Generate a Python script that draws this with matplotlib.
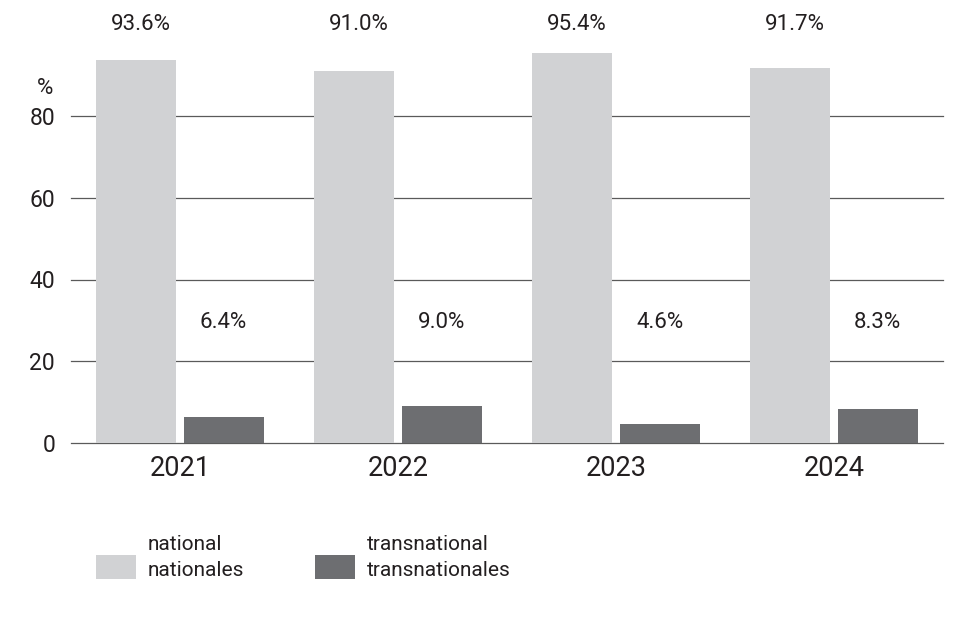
import matplotlib
matplotlib.use("Agg")
import matplotlib.pyplot as plt
import numpy as np
from matplotlib.patches import Rectangle

years = ["2021", "2022", "2023", "2024"]
national = [93.6, 91.0, 95.4, 91.7]
transnational = [6.4, 9.0, 4.6, 8.3]
national_labels = ["93.6%", "91.0%", "95.4%", "91.7%"]
trans_labels = ["6.4%", "9.0%", "4.6%", "8.3%"]
yticks = [0, 20, 40, 60, 80]

C_NAT = "#d1d2d4"
C_TRA = "#6d6e71"
TXT = "#231f20"
GRID = "#5a5a5a"

plt.rcParams['font.family'] = ['Roboto', 'DejaVu Sans']

W, H = 957, 641
fig = plt.figure(figsize=(W / 100, H / 100), dpi=100)
ax_l, ax_r = 71, 943
y0 = 443
ppu = (443 - 116) / 80.0
ytop = y0 - 100 * ppu
ax = fig.add_axes([ax_l / W, 1 - y0 / H, (ax_r - ax_l) / W, (y0 - ytop) / H])

x = np.arange(len(years))
bw = 0.367
off = 0.2
ax.set_xlim(-0.5, 3.5)
ax.set_ylim(0, 100)

for t in yticks:
    ax.axhline(t, color=GRID, lw=0.9, zorder=1, clip_on=False)

ax.bar(x - off, national, width=bw, color=C_NAT, zorder=2)
ax.bar(x + off, transnational, width=bw, color=C_TRA, zorder=2)

lab_top = (443 - 25) / ppu
lab_mid = (443 - 323) / ppu
for i in range(len(years)):
    ax.text(x[i] - off + 0.02, lab_top, national_labels[i], ha="center", va="center",
            fontsize=16, color=TXT, clip_on=False)
    ax.text(x[i] + off, lab_mid, trans_labels[i], ha="center", va="center",
            fontsize=16, color=TXT)

for s in ax.spines.values():
    s.set_visible(False)

ax.set_yticks(yticks)
ax.set_yticklabels([str(v) for v in yticks], fontsize=16.5, color=TXT)
ax.tick_params(axis="y", length=0, pad=11.5)
ax.set_xticks(x)
ax.set_xticklabels(years, fontsize=19.5, color=TXT)
ax.tick_params(axis="x", length=0, pad=8.5)

ax.text((45 - 180) / 218.0, (443 - 89) / ppu, "%", ha="center", va="center",
        fontsize=16, color=TXT, clip_on=False)

# legend
def legend_item(px, tx, color, l1, l2):
    fig.patches.append(Rectangle((px / W, 1 - 579 / H), 40 / W, 24 / H,
                                 transform=fig.transFigure, facecolor=color, edgecolor="none"))
    fig.text(tx / W, 1 - 545 / H, l1, ha="left", va="center", fontsize=15, color=TXT)
    fig.text(tx / W, 1 - 570 / H, l2, ha="left", va="center", fontsize=15, color=TXT)

legend_item(96, 148, C_NAT, "national", "nationales")
legend_item(315, 367, C_TRA, "transnational", "transnationales")

fig.savefig("out.png", dpi=100, facecolor="white")
